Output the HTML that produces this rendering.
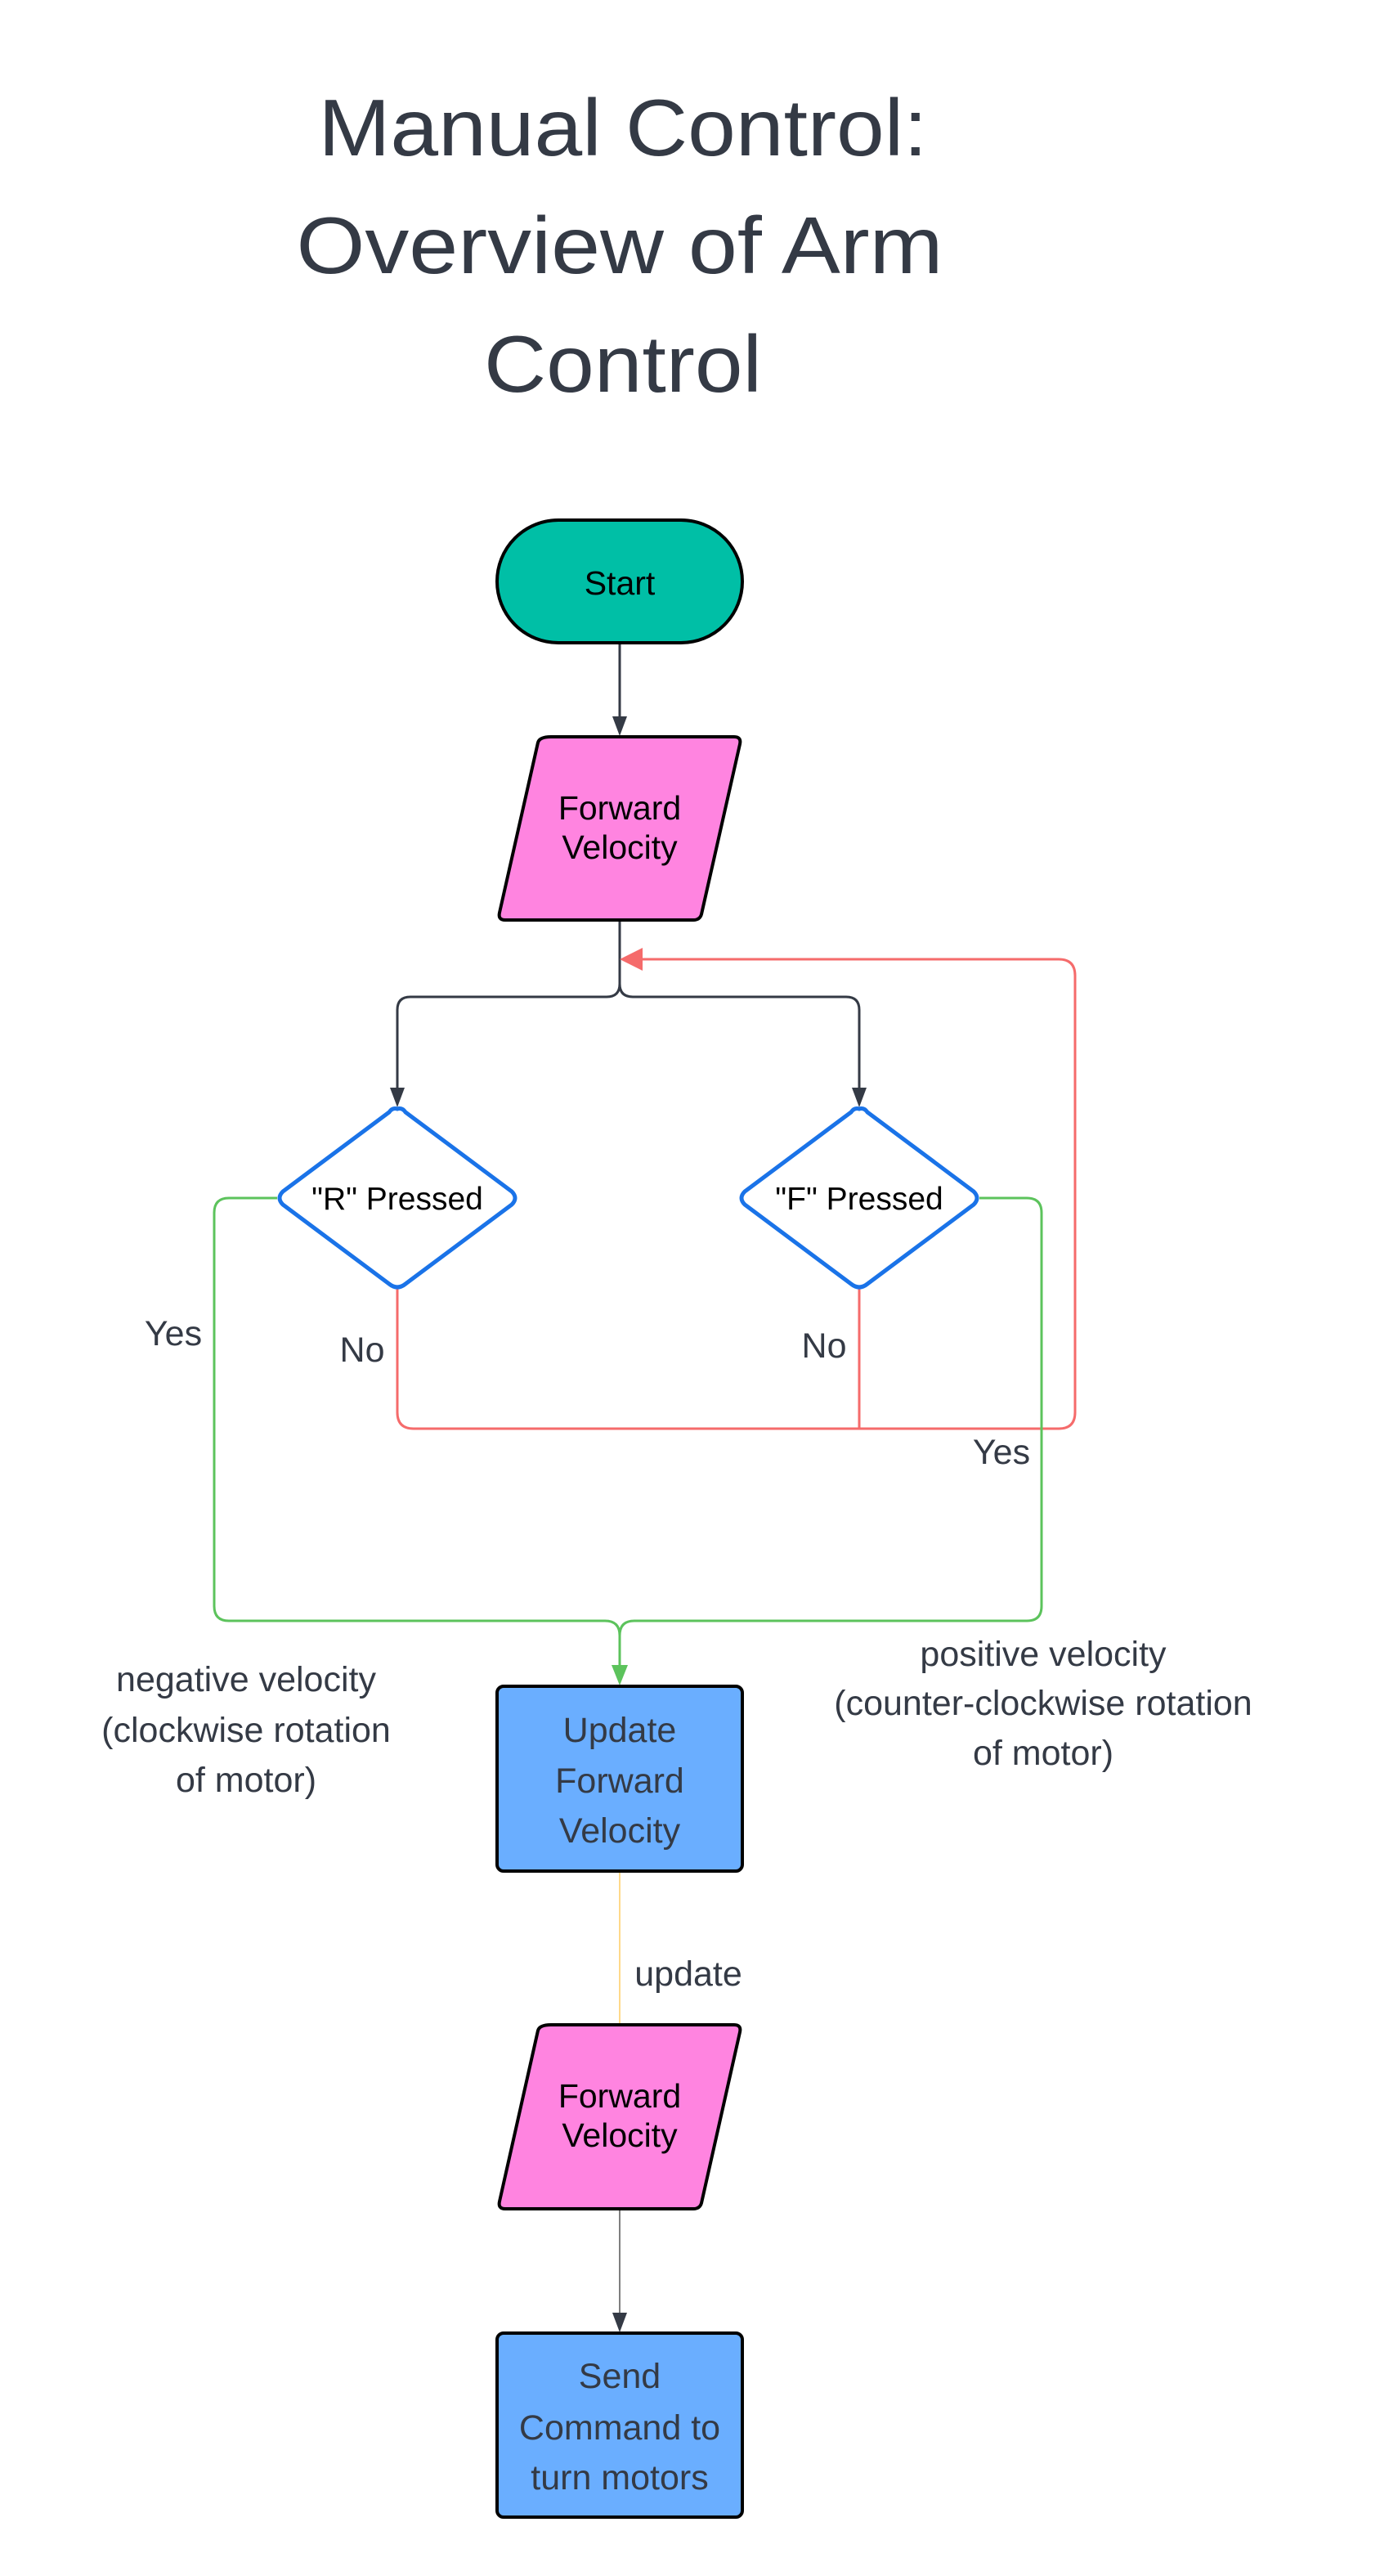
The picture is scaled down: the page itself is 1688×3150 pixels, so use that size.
<!DOCTYPE html>
<html><head><meta charset="utf-8"><style>
html,body{margin:0;padding:0;background:#fff;}
svg{display:block;}
text{font-family:"Liberation Sans",sans-serif;}
</style></head><body>
<svg width="1688" height="3150" viewBox="0 0 1688 3150" xmlns="http://www.w3.org/2000/svg">
<g fill="#343a45" font-size="98" text-anchor="middle">
<text x="762" y="190" textLength="745" lengthAdjust="spacingAndGlyphs">Manual Control:</text>
<text x="758" y="334" textLength="791" lengthAdjust="spacingAndGlyphs">Overview of Arm</text>
<text x="762" y="479" textLength="340" lengthAdjust="spacingAndGlyphs">Control</text>
</g>
<g transform="translate(-4,-2)">
<g stroke="#343a45" stroke-width="3" fill="none">
<line x1="762" y1="788" x2="762" y2="880"/>
<path d="M762 1128 V1205 Q762 1221 746 1221 H506 Q490 1221 490 1237 V1335"/>
<path d="M762 1205 Q762 1221 778 1221 H1039 Q1055 1221 1055 1237 V1335"/>
</g>
<g fill="#343a45">
<polygon points="753,878 771,878 762,902"/>
<polygon points="481,1332 499,1332 490,1356"/>
<polygon points="1046,1332 1064,1332 1055,1356"/>
</g>
<g stroke="#f56b6b" stroke-width="3" fill="none">
<path d="M490 1577 V1729 Q490 1749 510 1749 H1299 Q1319 1749 1319 1729 V1195 Q1319 1175 1299 1175 H785"/>
<line x1="1055" y1="1577" x2="1055" y2="1749"/>
</g>
<polygon points="762,1175 790,1161 790,1189" fill="#f56b6b"/>
<g stroke="#5cc35c" stroke-width="3" fill="none">
<path d="M343 1467 H284 Q266 1467 266 1485 V1966 Q266 1984 284 1984 H744 Q762 1984 762 2002 V2040"/>
<path d="M1202 1467 H1260 Q1278 1467 1278 1485 V1966 Q1278 1984 1260 1984 H780 Q762 1984 762 2002"/>
</g>
<polygon points="752,2038 772,2038 762,2063" fill="#5cc35c"/>
<line x1="762" y1="2290" x2="762" y2="2477" stroke="#ffd98a" stroke-width="2"/>
<line x1="762" y1="2704" x2="762" y2="2834" stroke="#555" stroke-width="1.5"/>
<polygon points="753,2830 771,2830 762,2854" fill="#343a45"/>

<rect x="612" y="638" width="300" height="150" rx="75" fill="#00bfa6" stroke="#000" stroke-width="4"/>
<text x="762" y="729" font-size="41" text-anchor="middle" fill="#000">Start</text>
<path d="M678 903 H902 Q911 903 909 912 L862 1120 Q860 1127 852 1127 H622 Q613 1127 615 1118 L662 910 Q664 903 678 903 Z" fill="#ff84e0" stroke="#000" stroke-width="4"/>
<g font-size="41" text-anchor="middle" fill="#000">
<text x="762" y="1004">Forward</text>
<text x="762" y="1052">Velocity</text>
</g>
<path d="M490 1358 Q496 1356 500 1362 L630 1459 Q638 1467 630 1475 L500 1572 Q490 1580 480 1572 L350 1475 Q342 1467 350 1459 L480 1362 Q484 1356 490 1358 Z" fill="#fff" stroke="#1a73e8" stroke-width="5"/>
<path d="M1055 1358 Q1061 1356 1065 1362 L1195 1459 Q1203 1467 1195 1475 L1065 1572 Q1055 1580 1045 1572 L915 1475 Q907 1467 915 1459 L1045 1362 Q1049 1356 1055 1358 Z" fill="#fff" stroke="#1a73e8" stroke-width="5"/>
<g font-size="39" text-anchor="middle" fill="#000">
<text x="490" y="1481">"R" Pressed</text>
<text x="1055" y="1481">"F" Pressed</text>
</g>
<g font-size="43" text-anchor="middle" fill="#343a45">
<text x="216" y="1647">Yes</text>
<text x="447" y="1667">No</text>
<text x="1012" y="1662">No</text>
<text x="1229" y="1792">Yes</text>
<text x="305" y="2070">negative velocity</text>
<text x="305" y="2132">(clockwise rotation</text>
<text x="305" y="2193">of motor)</text>
<text x="1280" y="2039">positive velocity</text>
<text x="1280" y="2099">(counter-clockwise rotation</text>
<text x="1280" y="2160">of motor)</text>
<text x="846" y="2430">update</text>
</g>
<rect x="612" y="2064" width="300" height="226" rx="8" fill="#6aaeff" stroke="#000" stroke-width="4"/>
<g font-size="43" text-anchor="middle" fill="#343a45">
<text x="762" y="2132">Update</text>
<text x="762" y="2194">Forward</text>
<text x="762" y="2255">Velocity</text>
</g>
<path d="M678 2478 H902 Q911 2478 909 2487 L862 2696 Q860 2703 852 2703 H622 Q613 2703 615 2694 L662 2485 Q664 2478 678 2478 Z" fill="#ff84e0" stroke="#000" stroke-width="4"/>
<g font-size="41" text-anchor="middle" fill="#000">
<text x="762" y="2579">Forward</text>
<text x="762" y="2627">Velocity</text>
</g>
<rect x="612" y="2855" width="300" height="225" rx="8" fill="#6aaeff" stroke="#000" stroke-width="4"/>
<g font-size="43" text-anchor="middle" fill="#343a45">
<text x="762" y="2922">Send</text>
<text x="762" y="2985">Command to</text>
<text x="762" y="3046">turn motors</text>
</g>
</g>
</svg>
</body></html>
